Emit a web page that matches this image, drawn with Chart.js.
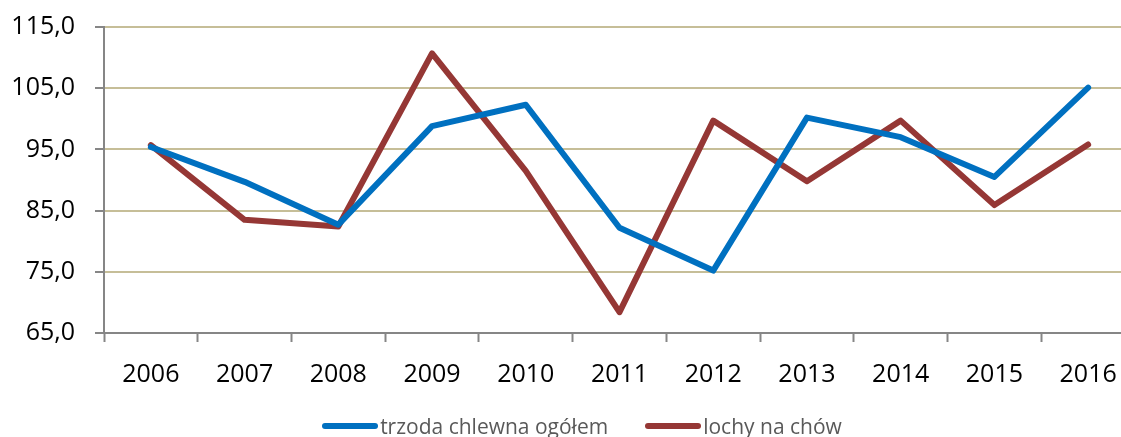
<!DOCTYPE html>
<html>
<head>
<meta charset="utf-8">
<script src="https://cdn.jsdelivr.net/npm/chart.js@4.4.1/dist/chart.umd.min.js"></script>
<style>
    html, body { margin: 0; padding: 0; background: #fff; overflow: hidden; }
    #wrap { position: relative; top: -8px; width: 1160px; height: 445px; }
    #legend {
        position: absolute; left: 0; width: 1164px; top: 420px;
        display: flex; justify-content: center; gap: 37px;
        font-family: "Open Sans", sans-serif; font-size: 21px; color: #595959;
    }
    .item { display: flex; align-items: center; }
    .swatch { width: 56px; height: 6px; border-radius: 3px; margin-right: 2px; }
</style>
</head>
<body>
<div id="wrap">
    <canvas id="lineChart"></canvas>
    <div id="legend"></div>
</div>
<script>
const years = ['2006', '2007', '2008', '2009', '2010', '2011', '2012', '2013', '2014', '2015', '2016'];
const trzoda = [95.4, 89.7, 82.7, 98.8, 102.3, 82.2, 75.2, 100.2, 97.0, 90.5, 105.1];
const lochy = [95.7, 83.5, 82.4, 110.7, 91.5, 68.4, 99.7, 89.8, 99.7, 85.9, 95.8];
const seriesNames = ['trzoda chlewna ogółem', 'lochy na chów'];
const seriesColors = ['#0070C0', '#953735'];

const gridColor = '#C6BE98';
const axisColor = '#868686';
const fontFamily = '"Open Sans", sans-serif';

document.addEventListener('DOMContentLoaded', () => {
    const ctx = document.getElementById('lineChart').getContext('2d');

    new Chart(ctx, {
        type: 'line',
        data: {
            labels: years,
            datasets: [trzoda, lochy].map((values, i) => ({
                label: seriesNames[i],
                data: values,
                borderColor: seriesColors[i],
                backgroundColor: seriesColors[i],
                borderWidth: 6,
                tension: 0,
                pointRadius: 0,
                borderJoinStyle: 'round',
                borderCapStyle: 'round',
                fill: false
            }))
        },
        options: {
            responsive: true,
            maintainAspectRatio: false,
            animation: false,
            layout: { padding: { top: 17, right: 25, bottom: 0, left: 0 } },
            scales: {
                x: {
                    offset: true,
                    grid: {
                        offset: true,
                        drawOnChartArea: false,
                        drawTicks: true,
                        tickLength: 9,
                        tickColor: axisColor,
                        tickWidth: 2
                    },
                    border: { color: axisColor, width: 2 },
                    ticks: {
                        color: '#000',
                        padding: 18,
                        maxRotation: 0,
                        font: { family: fontFamily, size: 25 }
                    },
                    afterFit: scale => { scale.height = 104; }
                },
                y: {
                    min: 65,
                    max: 115,
                    grid: {
                        color: gridColor,
                        lineWidth: 2,
                        drawTicks: true,
                        tickLength: 9,
                        tickColor: axisColor,
                        tickWidth: 2
                    },
                    border: { color: axisColor, width: 2 },
                    ticks: {
                        stepSize: 10,
                        color: '#000',
                        padding: 20,
                        font: { family: fontFamily, size: 25 },
                        callback: v => v.toFixed(1).replace('.', ',')
                    },
                    afterFit: scale => { scale.width = 104; }
                }
            },
            plugins: {
                legend: { display: false },
                tooltip: { enabled: false }
            }
        }
    });

    // legend below the chart, kept as html text
    document.getElementById('legend').innerHTML = seriesNames.map((name, i) => `
        <div class="item">
            <span class="swatch" style="background:${seriesColors[i]}"></span>
            <span>${name}</span>
        </div>
    `).join('');
});
</script>
</body>
</html>
